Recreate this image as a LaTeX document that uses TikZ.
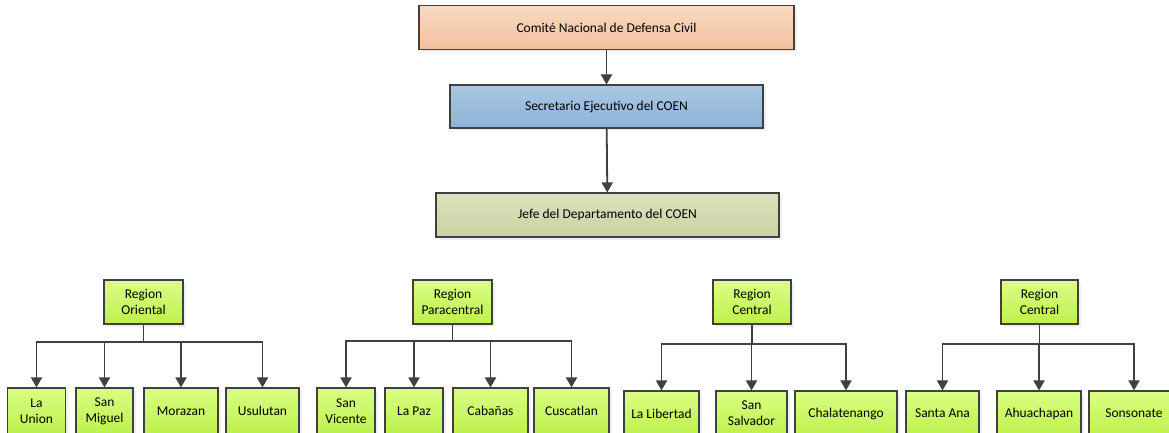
\documentclass[tikz,border=0pt]{standalone}
\usepackage{fontspec}
\setmainfont{Carlito}
\usetikzlibrary{arrows.meta,shadows}
\definecolor{edge}{HTML}{404040}
\definecolor{peachtop}{HTML}{F9D9C1}
\definecolor{peachbot}{HTML}{F2C19D}
\definecolor{bluetop}{HTML}{ABC7E3}
\definecolor{bluebot}{HTML}{8DB2D8}
\definecolor{olivetop}{HTML}{DAE2BE}
\definecolor{olivebot}{HTML}{C8D3A0}
\definecolor{limetop}{HTML}{DAFF84}
\definecolor{limebot}{HTML}{BDF04C}
\begin{document}
\begin{tikzpicture}[x=1pt,y=1pt,
box/.style={rectangle,draw=edge,line width=1.1pt,align=center,font=\fontsize{13.5}{16}\selectfont,drop shadow={shadow xshift=2.5pt,shadow yshift=-2.5pt,fill=black!12}},
peach/.style={box,top color=peachtop,bottom color=peachbot},
blue/.style={box,top color=bluetop,bottom color=bluebot},
olive/.style={box,top color=olivetop,bottom color=olivebot},
lime/.style={box,top color=limetop,bottom color=limebot},
conn/.style={draw=edge,line width=1.8pt,-{Triangle[width=11pt,length=10pt]}}]
\tikzstyle{every node}+=[inner sep=0pt]
\clip (0,0) rectangle (1169,-433);
\fill[white] (0,0) rectangle (1169,-433);
\node[peach,minimum width=375,minimum height=44] (cnd) at (606.5,-27.5) {Comité Nacional de Defensa Civil};
\node[blue,minimum width=313,minimum height=43] (sec) at (606.5,-106.5) {Secretario Ejecutivo del COEN};
\node[olive,minimum width=343,minimum height=44] (jefe) at (607.5,-215) {Jefe del Departamento del COEN};
\draw[conn] (cnd) -- (sec);
\draw[conn] (sec) -- (jefe);
\node[lime,minimum width=79,minimum height=44] (ro) at (143.5,-302) {Region\\Oriental};
\node[lime,minimum width=79,minimum height=44] (rp) at (452.5,-302) {Region\\Paracentral};
\node[lime,minimum width=78,minimum height=44] (rc) at (752,-302) {Region\\Central};
\node[lime,minimum width=77,minimum height=44] (rw) at (1039.5,-302) {Region\\Central};
\node[lime,minimum width=58,minimum height=46] (lu) at (36.5,-411) {La\\Union};
\node[lime,minimum width=57,minimum height=46] (sm) at (104.5,-411) {San\\Miguel};
\node[lime,minimum width=74,minimum height=46] (mo) at (181,-411) {Morazan};
\node[lime,minimum width=73,minimum height=46] (us) at (262.5,-411) {Usulutan};
\node[lime,minimum width=58,minimum height=46] (sv) at (346,-411) {San\\Vicente};
\node[lime,minimum width=58,minimum height=46] (lp) at (414,-411) {La Paz};
\node[lime,minimum width=75,minimum height=46] (ca) at (490.5,-411) {Cabañas};
\node[lime,minimum width=75,minimum height=46] (cu) at (571.5,-411) {Cuscatlan};
\node[lime,minimum width=75,minimum height=45] (ll) at (661.5,-413.5) {La Libertad};
\node[lime,minimum width=71,minimum height=45] (ss) at (751.5,-413.5) {San\\Salvador};
\node[lime,minimum width=102,minimum height=45] (ch) at (846,-413.5) {Chalatenango};
\node[lime,minimum width=73,minimum height=45] (sa) at (942.5,-413.5) {Santa Ana};
\node[lime,minimum width=84,minimum height=45] (ah) at (1039,-413.5) {Ahuachapan};
\node[lime,minimum width=90,minimum height=45] (so) at (1134,-413.5) {Sonsonate};
\foreach \c in {lu,sm,mo,us}
  \draw[conn] (ro) -- (ro |- 0,-342) -| (\c);
\foreach \c in {sv,lp,ca,cu}
  \draw[conn] (rp) -- (rp |- 0,-341) -| (\c);
\foreach \c in {ll,ss,ch}
  \draw[conn] (rc) -- (rc |- 0,-344) -| (\c);
\foreach \c in {sa,ah,so}
  \draw[conn] (rw) -- (rw |- 0,-344) -| (\c);
\end{tikzpicture}
\end{document}
